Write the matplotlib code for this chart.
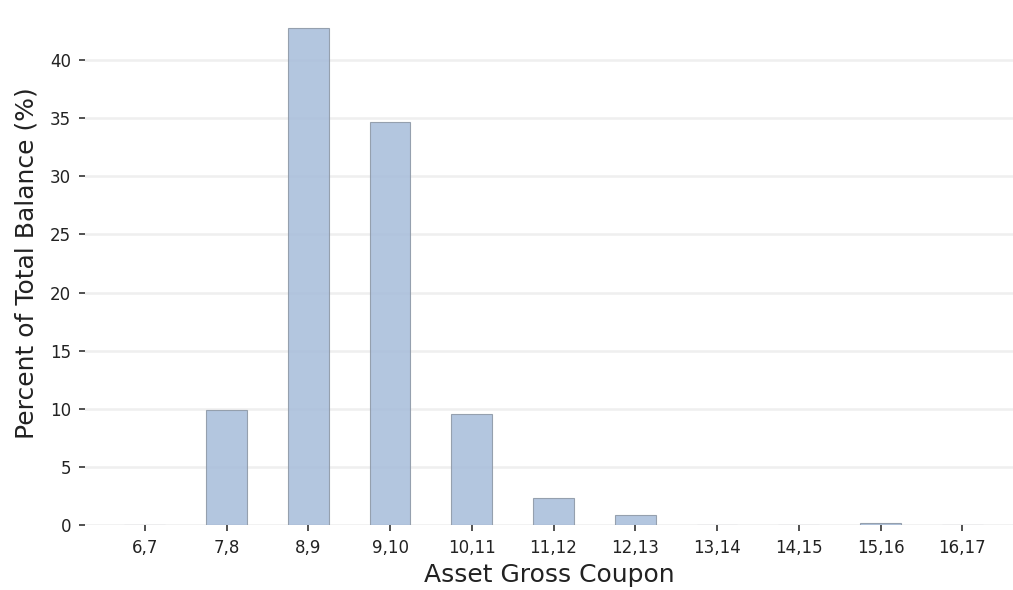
import matplotlib.pyplot as plt
import numpy as np

# data
buckets = ['6,7', '7,8', '8,9', '9,10', '10,11', '11,12', '12,13',
           '13,14', '14,15', '15,16', '16,17']
pct_balance = [0.0, 9.9, 42.75, 34.65, 9.55, 2.32, 0.86, 0.0, 0.0, 0.15, 0.0]

fig = plt.figure(figsize=(10.13, 5.9), dpi=100)
ax = fig.add_axes([0.084, 0.110, 0.916, 0.887])

x = np.arange(len(buckets))
ax.bar(x, pct_balance, width=0.5, color='#a6bcda', edgecolor='#8a95a3',
       linewidth=0.8, alpha=0.85, zorder=2)

ax.yaxis.grid(True, color='#efefef', linewidth=1.8, zorder=1)
ax.set_axisbelow(True)
for s in ax.spines.values():
    s.set_visible(False)

ax.set_xticks(x)
ax.set_xticklabels(buckets)
ax.set_yticks(range(0, 45, 5))
ax.set_xlim(-0.73, 10.62)
ax.set_ylim(0, 45)
ax.tick_params(axis='both', labelsize=12, length=4, width=1.2, pad=6,
               color='#333333', labelcolor='#222222')
ax.set_xlabel('Asset Gross Coupon', fontsize=18, color='#222222', labelpad=4)
ax.set_ylabel('Percent of Total Balance (%)', fontsize=18, color='#222222',
              labelpad=8)

plt.savefig('out.png', dpi=100)
